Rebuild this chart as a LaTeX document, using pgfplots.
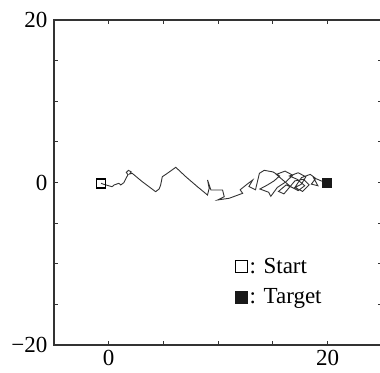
\documentclass[border=0pt]{standalone}
\usepackage{pgfplots}
\pgfplotsset{compat=1.18}
\usepackage{fontspec}
\setmainfont{Liberation Serif}
\begin{document}
\begin{tikzpicture}
\begin{axis}[
  at={(0pt,0pt)}, anchor=south west,
  scale only axis, width=328.5pt, height=325pt,
  xmin=-5, xmax=25, ymin=-20, ymax=20,
  xtick={0,20}, xticklabels={0,20},
  minor xtick={5,10,15},
  ytick={-20,0,20}, yticklabels={−20,0,20},
  minor ytick={-15,-10,-5,5,10,15},
  tick align=inside, major tick length=4pt, minor tick length=4pt,
  tick style={line width=1pt, black!80},
  axis line style={line width=1.2pt, black!80},
  tick label style={font=\fontsize{23}{26}\selectfont},
  xticklabel style={yshift=-2pt},
  yticklabel style={xshift=-3pt},
  legend style={at={(0.552,0.195)}, anchor=west, draw=none, fill=none,
    font=\fontsize{23}{26}\selectfont, row sep=10pt, inner sep=0pt,
    legend cell align=left, /tikz/every even column/.append style={column sep=0pt}},
  legend image code/.code={\draw[#1, mark size=6pt] plot coordinates {(6pt,0pt)};},
]
\addplot[forget plot, black!80, line width=0.9pt] coordinates {
(-0.7,-0.1) (-0.46,-0.22) (0.30,-0.52) (0.5,-0.3) (0.92,-0.1) (1.1,-0.3) (1.38,-0.02) (1.53,0.39)
(1.75,0.95) (1.6,1.25) (1.8,1.5) (2.05,1.3) (1.9,1.05) (2.14,1.13)
(3.06,0.1) (4.28,-1.13) (4.6,-0.8) (4.74,-0.31) (4.89,0.71) (5.1,0.9) (5.35,1.13)
(6.12,1.87) (7.04,0.71) (8.1,-0.52) (9.02,-1.54) (9.17,-0.71) (9.02,0.31) (9.33,-0.92)
(10.39,-0.92) (10.55,-1.75) (9.94,-2.15) (11.0,-1.94) (12.23,-1.33) (12.0,-0.9) (12.54,-0.31)
(13.15,0.31) (12.8,-0.5) (13.4,-0.9) (13.76,1.13) (14.2,1.5) (15.0,1.3) (15.6,0.8) (15.1,0.2) (14.5,-0.3) (13.8,-0.8)
(14.6,-1.2) (14.8,-1.7) (15.4,-0.6) (16.2,0.1) (16.8,0.9) (16.1,1.4) (15.3,1.0) (15.9,0.3)
(16.6,-0.5) (17.3,-1.0) (17.9,-0.4) (17.2,0.4) (16.5,0.8) (17.3,1.2) (18.0,0.7) (17.6,-0.2)
(16.9,-0.7) (16.2,-0.3) (15.5,-1.1) (16.0,-1.4) (17.0,0.2) (17.8,0.4) (18.3,-0.3) (17.7,-1.1) (17.0,-0.6) (17.6,0.6)
(18.4,1.0) (18.9,0.5) (18.5,-0.2) (19.1,-0.4) (18.7,0.6) (19.4,0.2) (19.8,0.0)
};
\addplot[only marks, mark=square, mark size=4.5pt, line width=1.5pt, black]
  coordinates {(-0.7,-0.1)};
\addplot[only marks, mark=square*, mark size=4.5pt, draw=black!90, fill=black!90]
  coordinates {(19.9,0)};
\legend{{: Start},{: Target}}
\end{axis}
\pgfresetboundingbox
\useasboundingbox (-54pt,-27pt) rectangle (326pt,345pt);
\end{tikzpicture}
\end{document}
